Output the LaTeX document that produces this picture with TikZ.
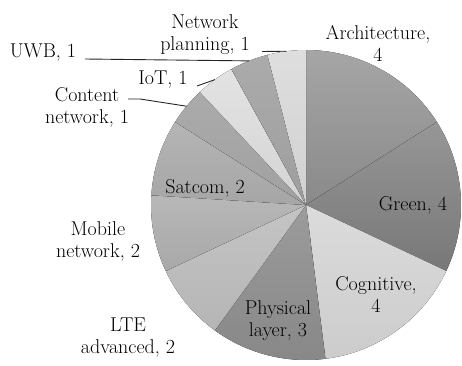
\documentclass[tikz,border=0pt]{standalone}
\newcommand\pieslice[4]{%
  \fill[top color=#3, bottom color=#4] (O) -- ++(#1:155) arc[start angle=#1, end angle=#2, radius=155] -- cycle;}
\begin{document}
\begin{tikzpicture}[x=1pt,y=1pt,
  lbl/.style={font=\fontsize{20}{22}\selectfont, align=center, inner sep=0pt, text=black},
  leader/.style={draw=black!85, line width=0.9pt}]
\useasboundingbox (0,0) rectangle (462,365);
\coordinate (O) at (306,160);
% slices (clockwise from top)
\pieslice{90}{32.4}{black!35}{black!46}
\pieslice{32.4}{-25.2}{black!41}{black!53}
\pieslice{-25.2}{-82.8}{black!14}{black!20}
\pieslice{-82.8}{-126}{black!39}{black!47}
\pieslice{-126}{-154.8}{black!23}{black!29}
\pieslice{-154.8}{-183.6}{black!28}{black!34}
\pieslice{176.4}{147.6}{black!29}{black!35}
\pieslice{147.6}{133.2}{black!33}{black!37}
\pieslice{133.2}{118.8}{black!11}{black!17}
\pieslice{118.8}{104.4}{black!33}{black!38}
\pieslice{104.4}{90}{black!13}{black!18}
% points on the rim for the leaders
\path (O) ++(97.2:155) coordinate (npP);
\path (O) ++(111.6:155) coordinate (uwbP);
\path (O) ++(126:155) coordinate (iotP);
\path (O) ++(140.4:155) coordinate (cntP);
% labels
\node[lbl] (arch) at (378,322) {Architecture,\\4};
\node[lbl] (green) at (413,160) {Green, 4};
\node[lbl] (cog) at (376,70) {Cognitive,\\4};
\node[lbl] (phys) at (278,44) {Physical\\layer, 3};
\node[lbl] (lte) at (128,27) {LTE\\advanced, 2};
\node[lbl] (mob) at (98,124) {Mobile\\network, 2};
\node[lbl] (sat) at (205,177) {Satcom, 2};
\node[lbl] (cnt) at (87,258) {Content\\network, 1};
\node[lbl] (iot) at (163,285) {IoT, 1};
\node[lbl] (uwb) at (43,312) {UWB, 1};
\node[lbl] (np) at (205,330) {Network\\planning, 1};
% leaders
\coordinate (npL) at (262,313.5);
\coordinate (uwbL) at (85,306);
\coordinate (iotL) at (197,279);
\coordinate (cntL) at (128,266);
\coordinate (cntK) at (140,266);
\draw[leader] (npL) -- (npP);
\draw[leader] (uwbL) -- (uwbP);
\draw[leader] (iotL) -- (iotP);
\draw[leader] (cntL) -- (cntK) -- (cntP);
\end{tikzpicture}
\end{document}
